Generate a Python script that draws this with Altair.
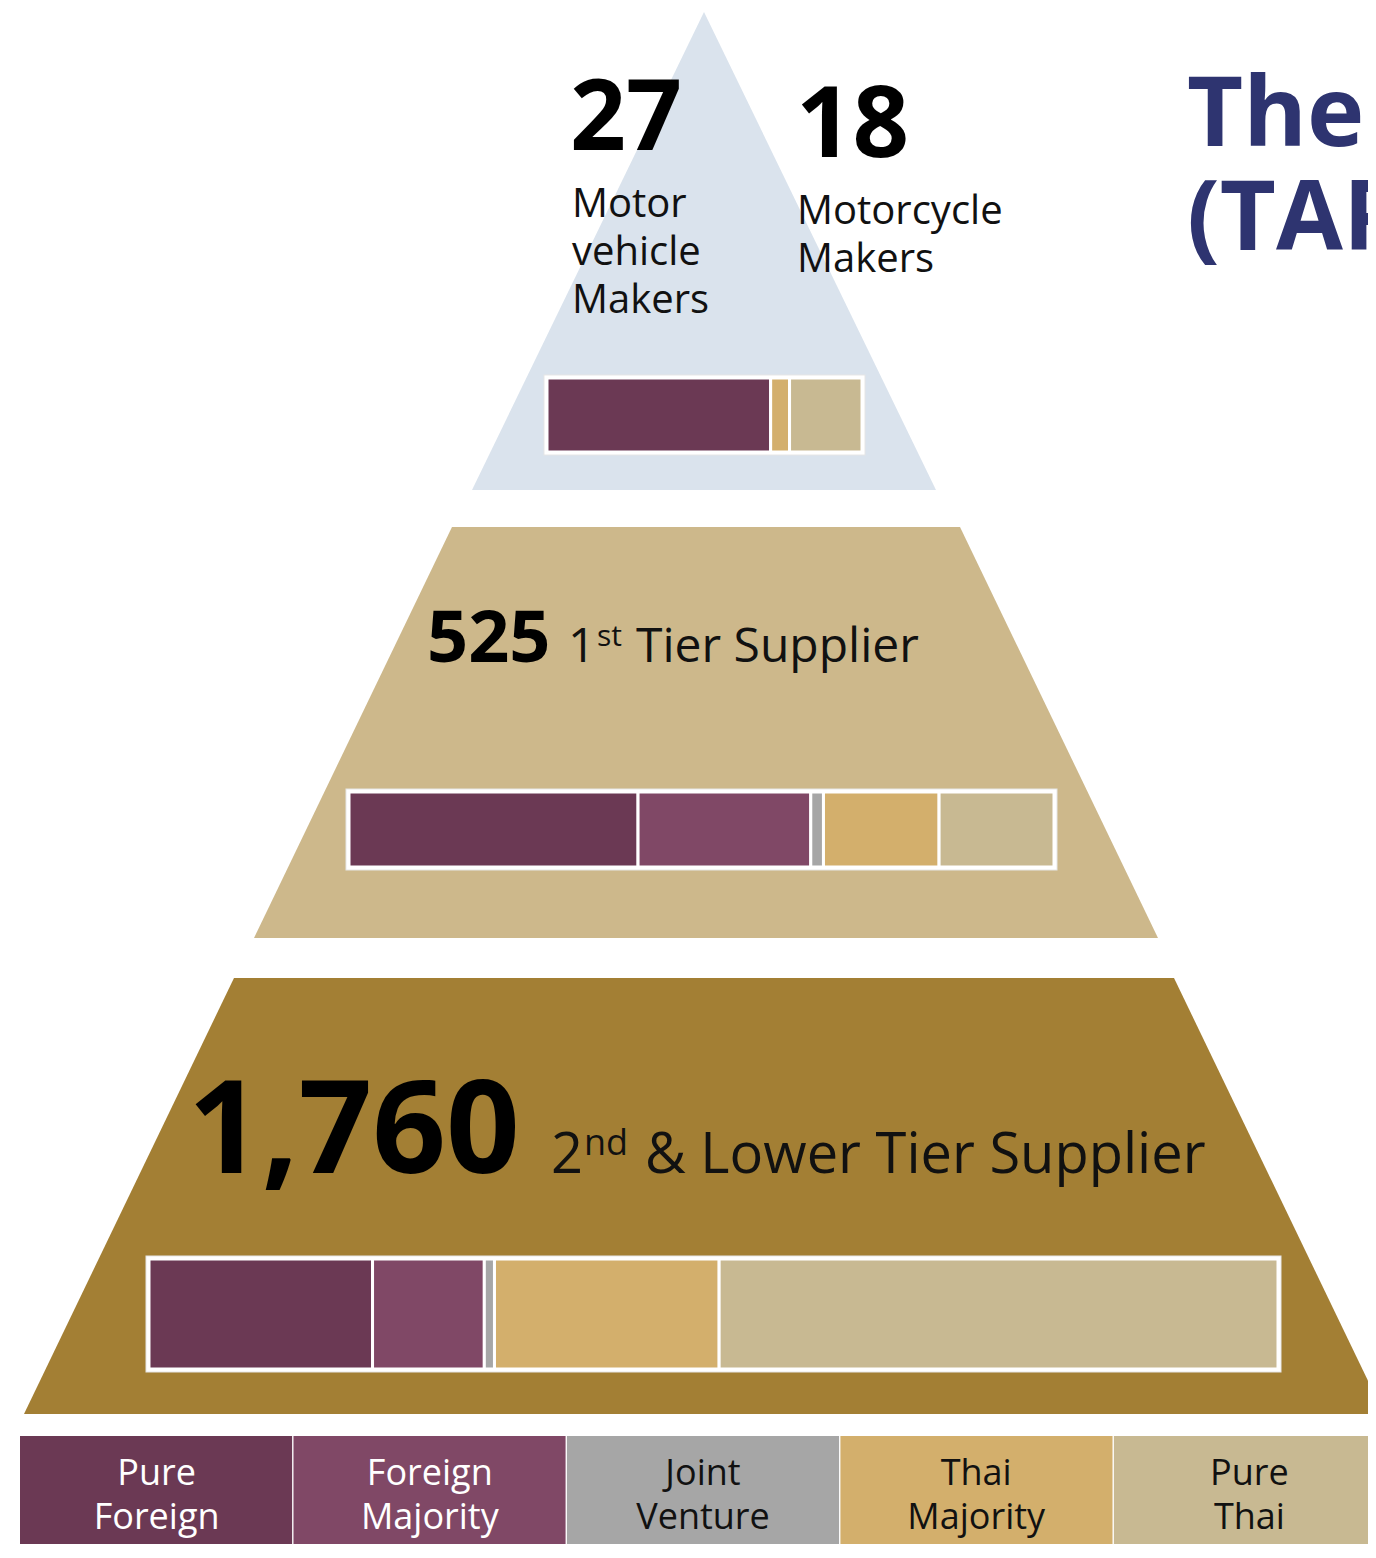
import altair as alt
import pandas as pd

# ---------------- data ----------------
categories = ["Pure Foreign", "Foreign Majority", "Joint Venture", "Thai Majority", "Pure Thai"]
legend_labels = ["Pure\nForeign", "Foreign\nMajority", "Joint\nVenture", "Thai\nMajority", "Pure\nThai"]
cat_colors = ["#6b3954", "#804866", "#a6a6a6", "#d3af6c", "#c8b992"]
label_colors = ["#ffffff", "#ffffff", "#111111", "#111111", "#111111"]

# ownership shares (%) per tier, in category order
share_makers = [71.0, 0.0, 0.0, 6.0, 23.0]
share_tier1 = [41.0, 24.5, 1.8, 16.4, 16.3]
share_tier2 = [19.8, 9.9, 0.9, 19.9, 49.5]

counts = ["27", "18", "525", "1,760"]
maker_labels = ["Motor\nvehicle\nMakers", "Motorcycle\nMakers"]
tier1_label = ["1", "st", "Tier Supplier"]
tier2_label = ["2", "nd", "& Lower Tier Supplier"]
title_text = "The\n(TAPMA)"

# ---------------- layout ----------------
FONT = "Open Sans"
W, H = 1360, 1536
X0, Y0 = 8, 8
xs = alt.Scale(domain=[X0, X0 + W], nice=False, zero=False)
ys = alt.Scale(domain=[Y0, Y0 + H], nice=False, zero=False, reverse=True)
one = pd.DataFrame({"k": [0]})

shapes = [
    ("#dae3ed", 12, 490, 704, 704, 472, 936),
    ("#cdb88b", 527, 938, 452, 960, 254, 1158),
    ("#a37f34", 978, 1414, 234, 1174, 24, 1384),
]
rows = []
for i, (fill, top, bot, tl, tr, bl, br) in enumerate(shapes):
    rows.append({"s": i, "fill": fill, "y": top, "xl": tl, "xr": tr})
    rows.append({"s": i, "fill": fill, "y": bot, "xl": bl, "xr": br})
trap_df = pd.DataFrame(rows)

trap = alt.Chart(trap_df).mark_area(orient="horizontal", clip=True).encode(
    y=alt.Y("y:Q", scale=ys, axis=None),
    x=alt.X("xl:Q", scale=xs, axis=None, stack=None),
    x2="xr:Q",
    color=alt.Color("fill:N", scale=None),
    detail="s:N",
)


def bar_layer(shares, xl, xr, yt, yb):
    df = pd.DataFrame({"cat": categories, "share": shares,
                       "ord": list(range(len(categories))), "color": cat_colors})
    sx = alt.Scale(domain=[0, 100], range=[xl - X0, xr - X0], nice=False, zero=False)
    frame = alt.Chart(one).mark_rect(fill="white", stroke="#e6e6e6", strokeWidth=7).encode(
        x=alt.X(datum=0, type="quantitative", scale=sx, axis=None),
        x2=alt.X2(datum=100),
        y=alt.Y(datum=yt, type="quantitative", scale=ys, axis=None),
        y2=alt.Y2(datum=yb),
    )
    inner = alt.Chart(one).mark_rect(fill="white", stroke="white", strokeWidth=5).encode(
        x=alt.X(datum=0, type="quantitative", scale=sx, axis=None),
        x2=alt.X2(datum=100),
        y=alt.Y(datum=yt, type="quantitative", scale=ys, axis=None),
        y2=alt.Y2(datum=yb),
    )
    segs = alt.Chart(df).transform_filter("datum.share > 0").transform_stack(
        stack="share", groupby=[], as_=["x0", "x1"], sort=[alt.SortField("ord")]
    ).mark_rect(stroke="white", strokeWidth=3).encode(
        x=alt.X("x0:Q", scale=sx, axis=None),
        x2="x1:Q",
        y=alt.Y(datum=yt, type="quantitative", scale=ys, axis=None),
        y2=alt.Y2(datum=yb),
        color=alt.Color("color:N", scale=None),
    )
    return alt.layer(frame, inner, segs)


bars = [
    bar_layer(share_makers, 547, 862, 378, 452),
    bar_layer(share_tier1, 349, 1054, 792, 867),
    bar_layer(share_tier2, 149, 1278, 1259, 1369),
]

# legend strip
leg_df = pd.DataFrame({"cat": categories, "label": legend_labels,
                       "color": cat_colors, "tcolor": label_colors})
leg_x = alt.Scale(domain=categories, range=[20 - X0, 1386 - X0], paddingInner=0.005, paddingOuter=0)
legend_boxes = alt.Chart(leg_df).mark_rect(clip=True).encode(
    x=alt.X("cat:N", scale=leg_x, axis=None, sort=categories),
    y=alt.Y(datum=1436, type="quantitative", scale=ys, axis=None),
    y2=alt.Y2(datum=1580),
    color=alt.Color("color:N", scale=None),
)
legend_text = alt.Chart(leg_df).mark_text(
    font=FONT, fontSize=36, lineBreak="\n", lineHeight=44, baseline="alphabetic", align="center"
).encode(
    x=alt.X("cat:N", scale=leg_x, axis=None, sort=categories),
    y=alt.Y(datum=1485, type="quantitative", scale=ys, axis=None),
    text="label:N",
    color=alt.Color("tcolor:N", scale=None),
)


def txt(s, x, y, size, weight="normal", color="#111111", lh=None):
    props = dict(font=FONT, fontSize=size, fontWeight=weight, color=color,
                 align="left", baseline="alphabetic")
    if "\n" in s:
        props.update(lineBreak="\n", lineHeight=lh)
    return alt.Chart(one).mark_text(**props).encode(
        x=alt.X(datum=x, type="quantitative", scale=xs, axis=None),
        y=alt.Y(datum=y, type="quantitative", scale=ys, axis=None),
        text=alt.value(s),
    )


texts = [
    txt(counts[0], 570, 150, 98, "bold", "#000000"),
    txt(counts[1], 796, 157, 99, "bold", "#000000"),
    txt(maker_labels[0], 572, 217, 40, lh=48),
    txt(maker_labels[1], 797, 224, 40, lh=48),
    txt(counts[2], 427, 662, 72, "bold", "#000000"),
    txt(tier1_label[0], 568, 662, 48),
    txt(tier1_label[1], 597, 646, 30),
    txt(tier1_label[2], 636, 662, 48),
    txt(counts[3], 188, 1173, 129, "bold", "#000000"),
    txt(tier2_label[0], 551, 1173, 56),
    txt(tier2_label[1], 584, 1155, 36),
    txt(tier2_label[2], 645, 1173, 56),
    txt(title_text, 1187, 146, 97, "bold", "#2e3470", lh=104),
]

chart = alt.layer(
    trap, *bars, legend_boxes, legend_text, *texts
).resolve_scale(x="independent").properties(
    width=W, height=H, padding=0,
    autosize=alt.AutoSizeParams(type="none"),
    background="white",
).configure_view(stroke=None)

chart.save("out.html", embed_options={"renderer": "svg", "actions": False})
